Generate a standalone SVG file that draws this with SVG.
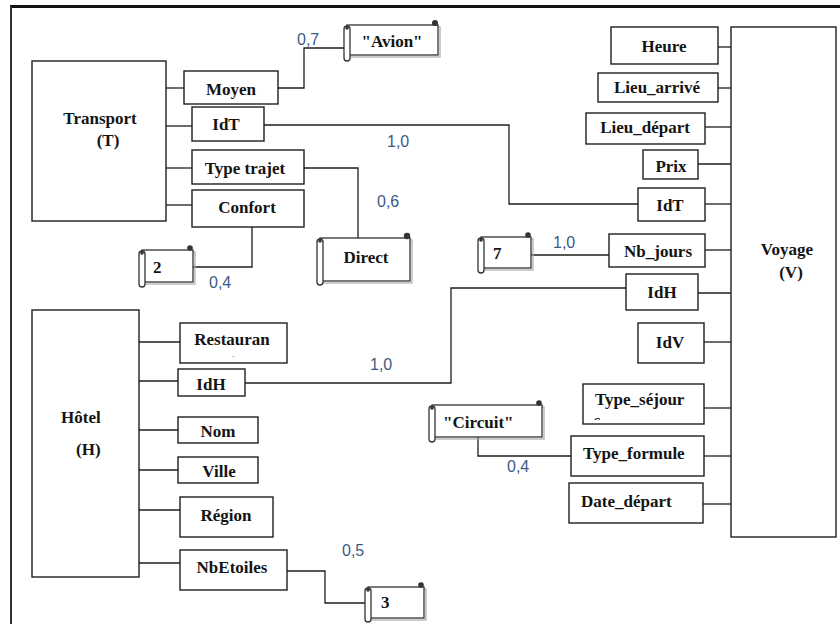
<svg xmlns="http://www.w3.org/2000/svg" width="840" height="624" viewBox="0 0 840 624">
<defs>
<style>
.box{fill:#fff;stroke:#1e1e1e;stroke-width:1.4}
.sh{fill:none;stroke:#aaa;stroke-width:1.2}
.lbl{font-family:"Liberation Serif","Times New Roman",serif;font-weight:bold;font-size:17px;fill:#141414}
.mid{text-anchor:middle}
.num{font-family:"Liberation Sans",Arial,sans-serif;font-size:16px;fill:#3d5a85}
.con{fill:none;stroke:#1e1e1e;stroke-width:1.3}
.roll{fill:#fff;stroke:#333;stroke-width:1.3}
.curl{fill:#333}
</style>
<clipPath id="clipR"><rect x="181" y="324" width="105" height="33"/></clipPath>
<clipPath id="clipS"><rect x="584" y="385" width="119" height="35"/></clipPath>
</defs>
<rect x="0" y="0" width="840" height="624" fill="#fff"/>
<g id="frame">
<line x1="10" y1="6.5" x2="840" y2="6.5" stroke="#111" stroke-width="3"/>
<line x1="11" y1="6" x2="11" y2="624" stroke="#333" stroke-width="2"/>
</g>
<g id="connectors">
<polyline class="con" points="166,88 184,88"/>
<polyline class="con" points="166,126 192,126"/>
<polyline class="con" points="166,168 192,168"/>
<polyline class="con" points="166,205 192,205"/>
<polyline class="con" points="278,88 304,88 304,48 344,48"/>
<polyline class="con" points="264,125 509,125 509,204 638,204"/>
<polyline class="con" points="304,168 358,168 358,238"/>
<polyline class="con" points="252,227 252,267 193,267"/>
<polyline class="con" points="531,255 609,255"/>
<polyline class="con" points="245,383 451,383 451,288 626,288"/>
<polyline class="con" points="478,437 478,456 571,456"/>
<polyline class="con" points="287,571 325,571 325,603 367,603"/>
<polyline class="con" points="139,342 180,342"/>
<polyline class="con" points="139,381 178,381"/>
<polyline class="con" points="139,430 178,430"/>
<polyline class="con" points="139,470 178,470"/>
<polyline class="con" points="139,510 180,510"/>
<polyline class="con" points="139,563 180,563"/>
<polyline class="con" points="718,47 731,47"/>
<polyline class="con" points="718,88 731,88"/>
<polyline class="con" points="705,127 731,127"/>
<polyline class="con" points="698,164 731,164"/>
<polyline class="con" points="705,204 731,204"/>
<polyline class="con" points="705,250 731,250"/>
<polyline class="con" points="698,293 731,293"/>
<polyline class="con" points="704,342 731,342"/>
<polyline class="con" points="704,408 731,408"/>
<polyline class="con" points="704,456 731,456"/>
<polyline class="con" points="703,504 731,504"/>
</g>
<g id="cardinalities">
<text class="num" x="297" y="45">0,7</text>
<text class="num" x="387" y="147">1,0</text>
<text class="num" x="377" y="207">0,6</text>
<text class="num" x="209" y="288">0,4</text>
<text class="num" x="553" y="248">1,0</text>
<text class="num" x="370" y="370">1,0</text>
<text class="num" x="507" y="472">0,4</text>
<text class="num" x="342" y="556">0,5</text>
</g>
<g id="transport">
<rect class="box" x="32" y="61" width="134" height="160"/>
<text class="lbl mid" x="100" y="124">Transport</text>
<text class="lbl mid" x="108" y="146">(T)</text>
</g>
<g id="t-moyen"><rect class="box" x="184" y="71" width="94" height="33"/><text class="lbl mid" x="231" y="95">Moyen</text></g>
<g id="t-idt"><rect class="box" x="192" y="107" width="72" height="34"/><text class="lbl mid" x="226" y="130">IdT</text></g>
<g id="t-typetrajet"><rect class="box" x="192" y="150" width="112" height="34"/><text class="lbl mid" x="245" y="174">Type trajet</text></g>
<g id="t-confort"><rect class="box" x="192" y="190" width="112" height="37"/><text class="lbl mid" x="247" y="213">Confort</text></g>
<g id="voyage">
<rect class="box" x="731" y="27" width="105" height="510"/>
<text class="lbl mid" x="787" y="255">Voyage</text>
<text class="lbl mid" x="791" y="278">(V)</text>
</g>
<g id="v-heure"><rect class="box" x="611" y="27" width="107" height="37"/><text class="lbl mid" x="664" y="52">Heure</text></g>
<g id="v-lieuarrive"><rect class="box" x="598" y="73" width="120" height="29"/><text class="lbl mid" x="657" y="93">Lieu_arrivé</text></g>
<g id="v-lieudepart"><rect class="box" x="586" y="113" width="119" height="31"/><text class="lbl mid" x="645" y="133">Lieu_départ</text></g>
<g id="v-prix"><rect class="box" x="643" y="150" width="55" height="29"/><text class="lbl mid" x="671" y="172">Prix</text></g>
<g id="v-idt"><rect class="box" x="638" y="188" width="67" height="33"/><text class="lbl mid" x="670" y="211">IdT</text></g>
<g id="v-nbjours"><rect class="box" x="609" y="234" width="96" height="33"/><text class="lbl mid" x="658" y="257">Nb_jours</text></g>
<g id="v-idh"><rect class="box" x="626" y="274" width="72" height="36"/><text class="lbl mid" x="662" y="298">IdH</text></g>
<g id="v-idv"><rect class="box" x="638" y="323" width="66" height="40"/><text class="lbl mid" x="670" y="348">IdV</text></g>
<g id="v-typesejour"><rect class="box" x="583" y="384" width="121" height="40"/><text class="lbl" x="595" y="405">Type_séjour</text><text class="lbl" x="594" y="426" clip-path="url(#clipS)">s</text></g>
<g id="v-typeformule"><rect class="box" x="571" y="436" width="133" height="40"/><text class="lbl" x="583" y="459">Type_formule</text></g>
<g id="v-datedepart"><rect class="box" x="569" y="483" width="134" height="40"/><text class="lbl" x="581" y="507">Date_départ</text></g>
<g id="hotel">
<rect class="box" x="32" y="310" width="107" height="267"/>
<text class="lbl" x="61" y="423">Hôtel</text>
<text class="lbl" x="76" y="455">(H)</text>
</g>
<g id="h-restaurant"><rect class="box" x="180" y="323" width="107" height="40"/><text class="lbl mid" x="232" y="345">Restauran</text><text class="lbl mid" x="233" y="366" clip-path="url(#clipR)">t</text></g>
<g id="h-idh"><rect class="box" x="178" y="369" width="67" height="27"/><text class="lbl mid" x="211" y="390">IdH</text></g>
<g id="h-nom"><rect class="box" x="178" y="417" width="80" height="26"/><text class="lbl mid" x="218" y="437">Nom</text></g>
<g id="h-ville"><rect class="box" x="178" y="457" width="80" height="26"/><text class="lbl mid" x="219" y="477">Ville</text></g>
<g id="h-region"><rect class="box" x="180" y="497" width="93" height="40"/><text class="lbl mid" x="226" y="521">Région</text></g>
<g id="h-nbetoiles"><rect class="box" x="180" y="550" width="107" height="40"/><text class="lbl mid" x="232" y="573">NbEtoiles</text></g>
<g id="s-avion">
<rect class="sh" x="349" y="27" width="91" height="30"/>
<rect class="roll" x="347" y="25" width="91" height="30"/>
<circle class="curl" cx="435" cy="23" r="3"/>
<rect class="roll" x="344" y="26" width="6" height="35" rx="3"/>
<circle class="curl" cx="347" cy="28" r="1.8"/>
<text class="lbl mid" x="392" y="47">"Avion"</text>
</g>
<g id="s-direct">
<rect class="sh" x="322" y="240" width="90" height="43"/>
<rect class="roll" x="320" y="238" width="90" height="43"/>
<circle class="curl" cx="407" cy="236" r="3.2"/>
<rect class="roll" x="317" y="239" width="6" height="46" rx="3"/>
<circle class="curl" cx="320" cy="241" r="1.8"/>
<text class="lbl mid" x="366" y="263">Direct</text>
</g>
<g id="s-2">
<rect class="sh" x="144" y="252" width="51" height="32"/>
<rect class="roll" x="142" y="250" width="51" height="32"/>
<circle class="curl" cx="190" cy="248" r="2.8"/>
<rect class="roll" x="139" y="251" width="6" height="36" rx="3"/>
<circle class="curl" cx="142" cy="253" r="1.8"/>
<text class="lbl" x="153" y="273">2</text>
</g>
<g id="s-7">
<rect class="sh" x="483" y="239" width="50" height="31"/>
<rect class="roll" x="481" y="237" width="50" height="31"/>
<circle class="curl" cx="528" cy="235" r="2.8"/>
<rect class="roll" x="478" y="238" width="6" height="35" rx="3"/>
<circle class="curl" cx="481" cy="240" r="1.8"/>
<text class="lbl" x="493" y="259">7</text>
</g>
<g id="s-circuit">
<rect class="sh" x="434" y="407" width="110" height="32"/>
<rect class="roll" x="432" y="405" width="110" height="32"/>
<circle class="curl" cx="539" cy="403" r="2.8"/>
<rect class="roll" x="429" y="406" width="6" height="36" rx="3"/>
<circle class="curl" cx="432" cy="408" r="1.8"/>
<text class="lbl" x="443" y="428">"Circuit"</text>
</g>
<g id="s-3">
<rect class="sh" x="370" y="589" width="56" height="31"/>
<rect class="roll" x="368" y="587" width="56" height="31"/>
<circle class="curl" cx="421" cy="585" r="2.8"/>
<rect class="roll" x="365" y="588" width="6" height="34" rx="3"/>
<circle class="curl" cx="368" cy="590" r="1.8"/>
<text class="lbl" x="381" y="608">3</text>
</g>
</svg>
